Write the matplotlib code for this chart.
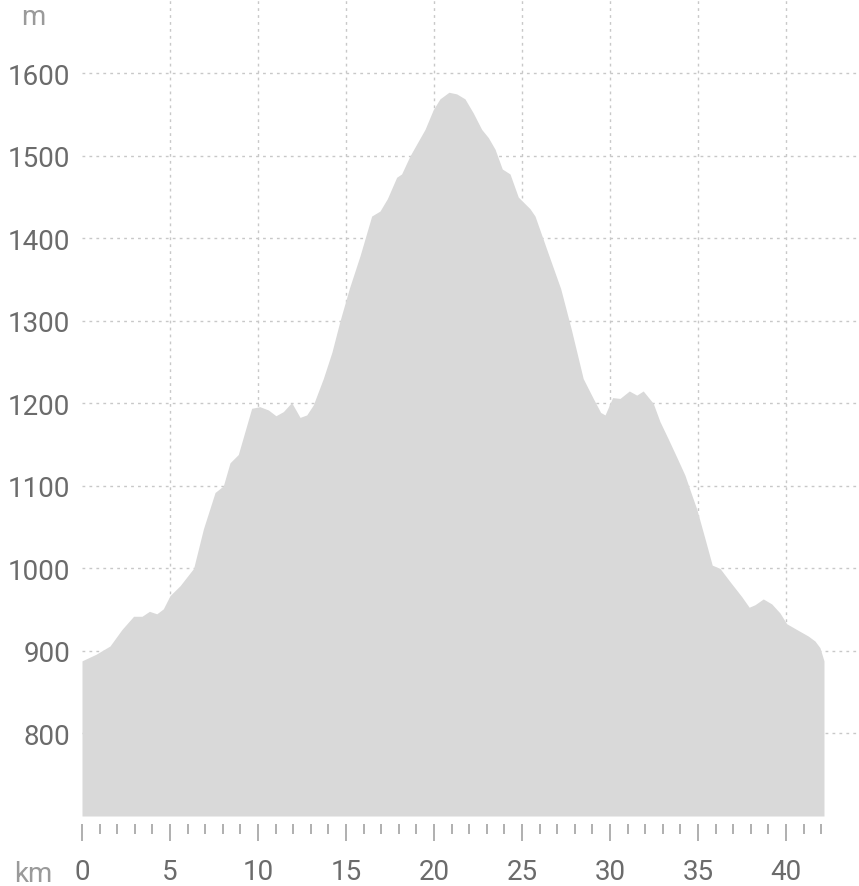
import matplotlib
matplotlib.use('Agg')
import matplotlib.pyplot as plt
import numpy as np

# Elevation profile (km, m)
dist_km = [0.0, 0.8, 1.59, 2.27, 2.93, 3.41, 3.83, 4.25, 4.62, 5.0, 5.57, 6.34,
           6.9, 7.56, 8.03, 8.41, 8.88, 9.64, 10.1, 10.59, 11.02, 11.44, 11.91,
           12.39, 12.77, 13.14, 13.71, 14.2, 14.66, 15.2, 15.8, 16.46, 16.93,
           17.35, 17.88, 18.16, 18.64, 19.49, 19.96, 20.34, 20.85, 21.29, 21.76,
           22.23, 22.71, 23.09, 23.47, 23.88, 24.32, 24.79, 25.45, 25.74, 26.5,
           27.2, 27.8, 28.48, 29.05, 29.47, 29.72, 30.15, 30.57, 31.1, 31.52,
           31.89, 32.46, 32.84, 33.31, 33.79, 34.26, 34.55, 34.93, 35.4, 35.81,
           36.25, 36.82, 37.48, 37.91, 38.24, 38.71, 39.19, 39.66, 40.04, 40.61,
           41.27, 41.65, 41.93, 42.16]
elev_m = [888, 896, 906, 926, 942, 942, 948, 945, 951, 967, 979, 1000,
          1048, 1092, 1100, 1128, 1138, 1194, 1196, 1192, 1185, 1190, 1201,
          1183, 1186, 1198, 1230, 1262, 1300, 1340, 1379, 1427, 1433,
          1448, 1474, 1478, 1500, 1532, 1556, 1569, 1577, 1575, 1569,
          1552, 1532, 1522, 1508, 1484, 1478, 1450, 1436, 1427, 1381,
          1339, 1290, 1230, 1206, 1189, 1186, 1207, 1206, 1215, 1210,
          1215, 1200, 1178, 1157, 1135, 1113, 1095, 1072, 1036, 1004,
          1000, 984, 966, 953, 956, 963, 957, 946, 933, 926,
          918, 912, 904, 888]

x_ticks = [0, 5, 10, 15, 20, 25, 30, 35, 40]
x_minor = [v for v in range(0, 43) if v % 5 != 0]
y_ticks = [800, 900, 1000, 1100, 1200, 1300, 1400, 1500, 1600]

plt.rcParams['font.family'] = ['Roboto', 'DejaVu Sans']

fig = plt.figure(figsize=(8.59, 8.87), dpi=100)
ax = fig.add_axes([82/859, 70/887, 777/859, 817/887])

ax.fill_between(dist_km, elev_m, 700, color='#d9d9d9', linewidth=0, zorder=2)

ax.set_xlim(0, 44.15)
ax.set_ylim(700, 1690)
ax.set_xticks(x_ticks)
ax.set_xticks(x_minor, minor=True)
ax.set_yticks(y_ticks)

# dotted grid, below the fill; no vertical line at km 0
grid_kw = dict(color='#c8c8c8', linestyle=(0, (2, 3)), linewidth=1, zorder=0)
ax.grid(True, axis='y', **grid_kw)
for xv in x_ticks[1:]:
    ax.axvline(xv, **grid_kw)

for s in ['top', 'right', 'left']:
    ax.spines[s].set_visible(False)
ax.spines['bottom'].set_position(('outward', 6))
ax.spines['bottom'].set_visible(False)

ax.tick_params(axis='x', which='major', length=12.2, width=1.1, color='#9a9a9a',
               labelsize=20, labelcolor='#6b6b6b', pad=12)
ax.tick_params(axis='x', which='minor', length=7.5, width=1.1, color='#9a9a9a')
ax.tick_params(axis='y', length=0, labelsize=20, labelcolor='#6b6b6b', pad=8.6)

fig.text(33/859, 1 - 882/887, 'km', fontsize=20, color='#9a9a9a', ha='center', va='baseline')
fig.text(33/859, 1 - 25/887, 'm', fontsize=20, color='#9a9a9a', ha='center', va='baseline')

fig.savefig('out.png', dpi=100)
